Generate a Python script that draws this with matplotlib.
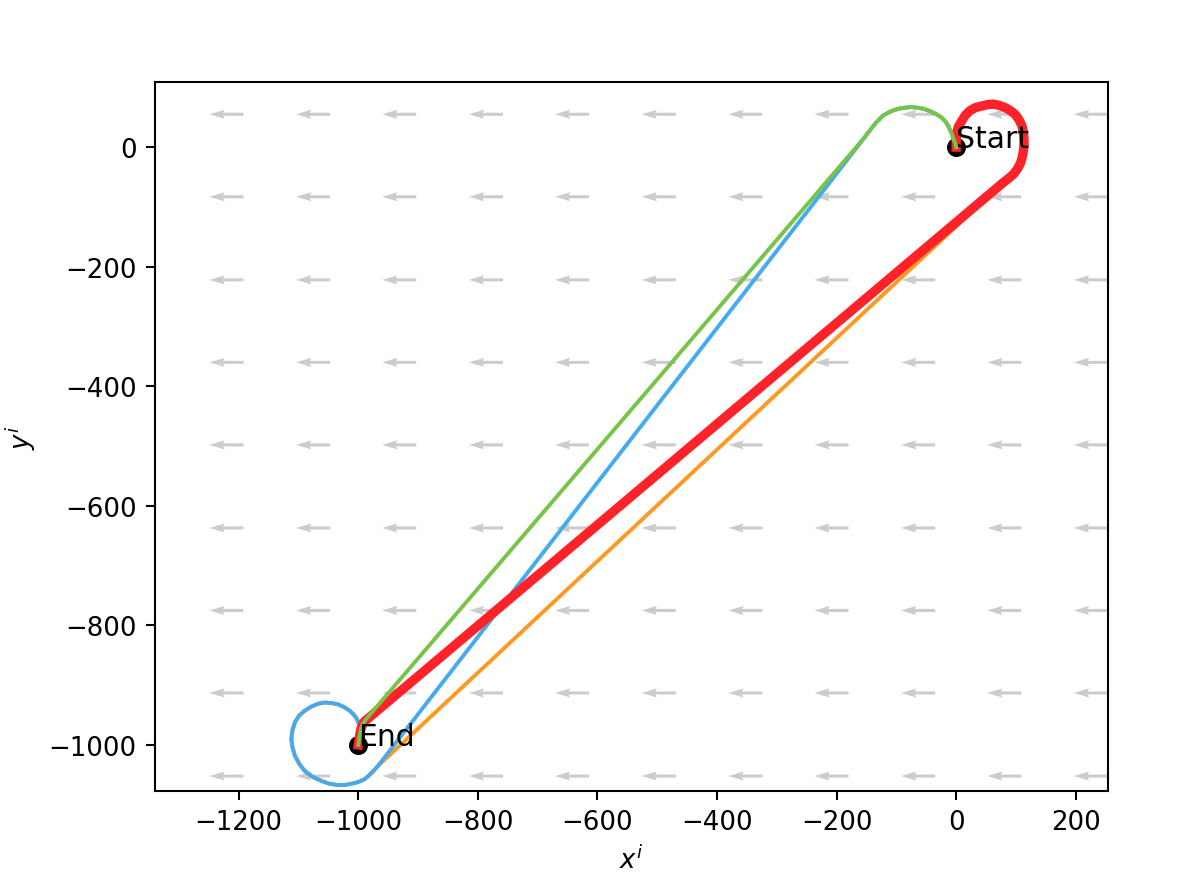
import matplotlib
matplotlib.use("Agg")
import matplotlib.pyplot as plt
import numpy as np

# wind field grid (arrow tails) and wind vector
wind_x = [-1192, -1047, -903, -758, -614, -469, -324, -180, -35, 109, 254]
wind_y = [55, -83, -222, -360, -498, -637, -775, -913, -1052]
wind_u = -57
wind_v = 0

start = (0, 0)
end = (-1000, -1000)

# start manoeuvres
red_start_x = [0, 0, 1, 4, 9.5, 15, 23, 32, 43, 52, 62, 72, 82, 91, 98.5, 105,
               110, 112.5, 113.5, 113.5, 112, 110, 107, 102, 96, 88, 79]
red_start_y = [0, 12, 25, 35, 44, 53, 61, 66, 69, 71, 72, 70, 66, 61, 55, 46,
               36, 25, 13, 2, -9, -19, -28, -37, -45, -52, -59]
green_start_x = [0, -1.5, -4, -8, -13, -18, -25, -33, -43, -54, -65, -75, -86,
                 -95, -104, -113, -122, -128, -134, -139, -143.6, -150, -156]
green_start_y = [0, 6, 13, 24, 35, 43, 50, 55, 60, 64, 66, 67, 66,
                 64.5, 62, 58, 53, 47, 41, 35, 29, 21, 13]

# end manoeuvres
short_end_x = [-993, -996, -998, -1000]
short_end_y = [-966, -975, -986, -1000]
loop_end_x = [-967, -978, -989, -1000, -1012, -1023, -1034, -1048, -1062, -1077,
              -1090, -1099, -1106, -1110, -1112, -1110, -1106, -1099, -1090,
              -1079, -1067, -1056, -1045, -1034, -1023, -1014, -1006, -1001,
              -998, -996, -996, -998, -1000]
loop_end_y = [-1035, -1047, -1057, -1062, -1065, -1067, -1067, -1065, -1060, -1053,
              -1043, -1031, -1018, -1004, -990, -975, -962, -951, -943,
              -936, -931, -929, -930, -932, -937, -943, -951, -959,
              -968, -977, -985, -993, -1000]

# full paths
orange_x = red_start_x + loop_end_x
orange_y = red_start_y + loop_end_y
blue_x = green_start_x[:19] + loop_end_x
blue_y = green_start_y[:19] + loop_end_y
red_x = red_start_x + [-990] + short_end_x
red_y = red_start_y + [-961] + short_end_y
green_x = green_start_x + [-988] + short_end_x
green_y = green_start_y + [-958] + short_end_y

fig = plt.figure(figsize=(1196 / 187, 894 / 187), dpi=187)
ax = fig.add_axes([155 / 1196, 1 - 792 / 894, (1108 - 155) / 1196, (792 - 83) / 894])

gx, gy = np.meshgrid(wind_x, wind_y)
ax.quiver(gx, gy, np.full(gx.shape, wind_u), np.full(gx.shape, wind_v),
          angles='xy', scale_units='xy', scale=1, color='#cccccc', width=0.0032)

ax.scatter([start[0], end[0]], [start[1], end[1]], color='black', s=40)
ax.text(start[0], start[1], 'Start', fontsize=11.5)
ax.text(end[0], end[1], 'End', fontsize=11.5)

ax.plot(orange_x, orange_y, color='#ff9922', lw=1.5)
ax.plot(blue_x, blue_y, color='#45aaef', lw=1.5)
ax.plot(red_x, red_y, color='#ff2228', lw=3.6)
ax.plot(green_x, green_y, color='#77c447', lw=1.5)

ax.set_xlim(-1340, 254)
ax.set_ylim(-1077, 109)
ax.set_xlabel('$x^i$')
ax.set_ylabel('$y^i$')

fig.savefig('out.png', dpi=187)
